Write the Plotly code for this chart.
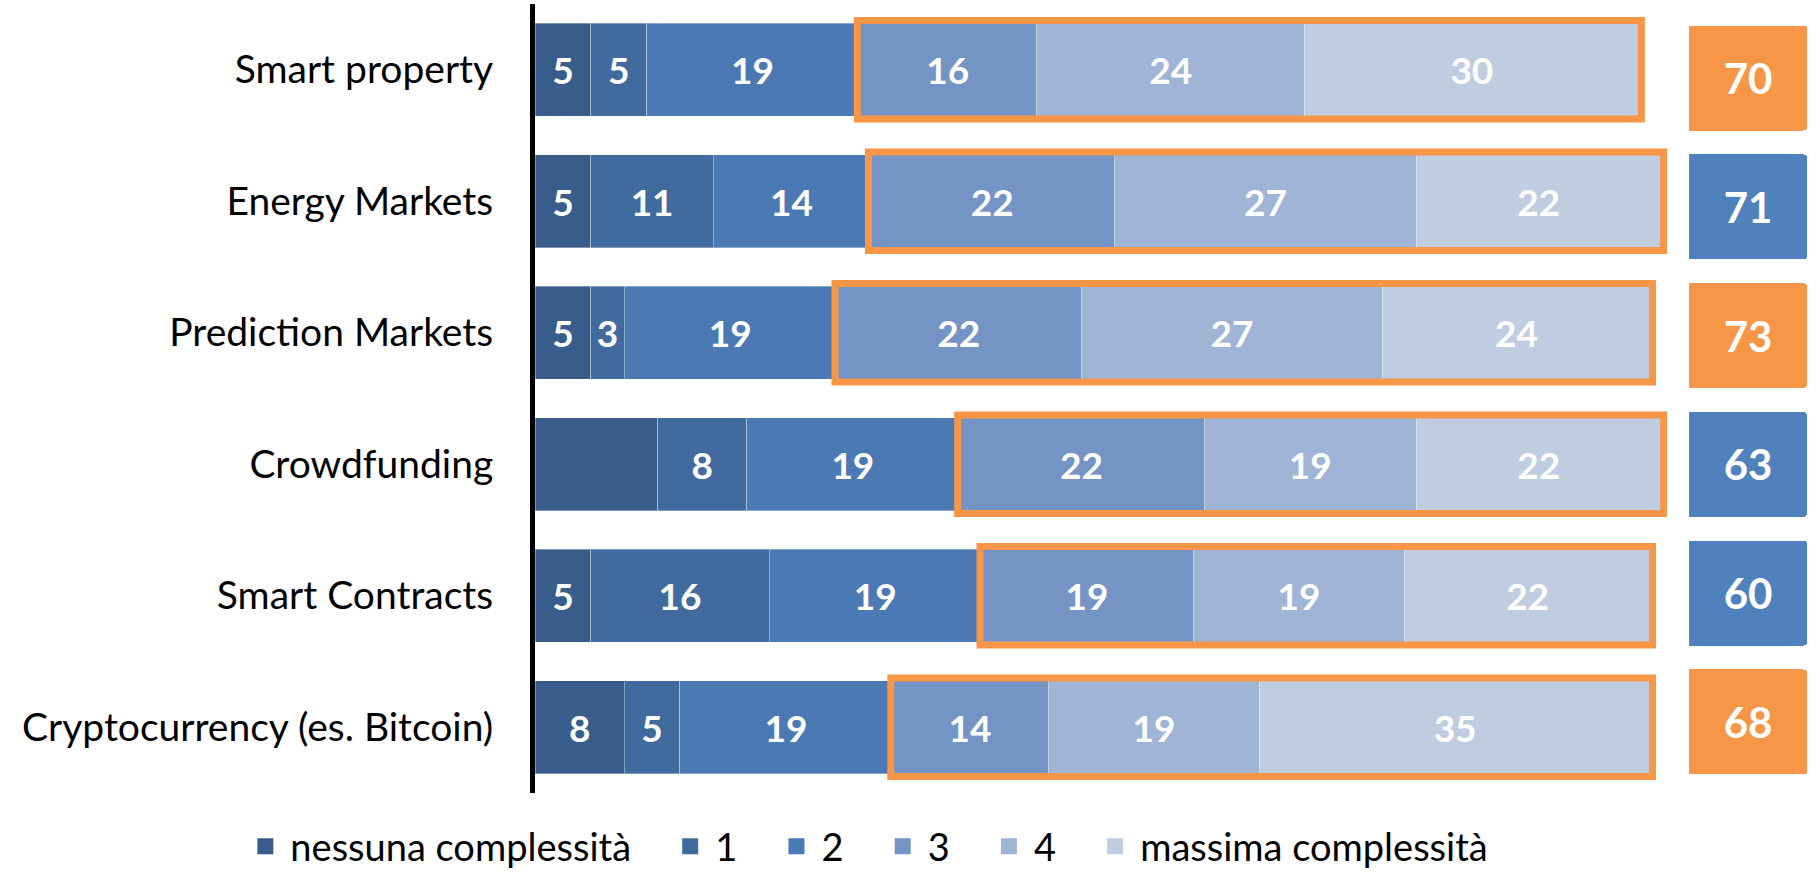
import plotly.graph_objects as go

categories = ["Smart property", "Energy Markets", "Prediction Markets",
              "Crowdfunding", "Smart Contracts", "Cryptocurrency (es. Bitcoin)"]
series_names = ["nessuna complessità", "1", "2", "3", "4", "massima complessità"]

nessuna = [5, 5, 5, 11, 5, 8]
livello1 = [5, 11, 3, 8, 16, 5]
livello2 = [19, 14, 19, 19, 19, 19]
livello3 = [16, 22, 22, 22, 19, 14]
livello4 = [24, 27, 27, 19, 19, 19]
massima = [30, 22, 24, 22, 22, 35]
label_hidden = [False, False, False, True, False, False]  # Crowdfunding first segment has no label
highlight = [True, False, True, False, False, True]        # orange total boxes

series = [nessuna, livello1, livello2, livello3, livello4, massima]
colors = ["#385D8A", "#416B9E", "#4B79B4", "#7394C5", "#A0B4D5", "#C0CDE1"]
ORANGE = "#F79646"
BLUE = "#4F81BD"
FONT = "Lato"
NBSP = "\u00a0"

fig = go.Figure()
for k, (name, vals, col) in enumerate(zip(series_names, series, colors)):
    texts = []
    for i, v in enumerate(vals):
        texts.append("" if (k == 0 and label_hidden[i]) else str(v))
    fig.add_trace(go.Bar(
        y=categories, x=vals, orientation="h", name=name,
        marker=dict(color=col, line=dict(color="rgba(255,255,255,0.35)", width=1)),
        text=texts, textposition="inside", insidetextanchor="middle",
        textangle=0, constraintext="none",
        textfont=dict(family=FONT, size=37, color="white", weight="bold"),
        showlegend=False, xaxis="x", yaxis="y",
    ))
    # legend entry with larger square marker
    fig.add_trace(go.Scatter(
        x=[None], y=[None], mode="markers", name=name + NBSP * 3,
        marker=dict(symbol="square", size=16, color=col),
        showlegend=True, xaxis="x", yaxis="y",
    ))

# totals of the three highest complexity levels
totals = [a + b + c for a, b, c in zip(livello3, livello4, massima)]
fig.add_trace(go.Bar(
    y=categories, x=[1] * len(categories), orientation="h", width=0.815,
    marker=dict(color=[ORANGE if h else BLUE for h in highlight], cornerradius=4, line=dict(width=0)),
    text=[str(t) for t in totals], textposition="inside", insidetextanchor="middle",
    textangle=0, constraintext="none",
    textfont=dict(family=FONT, size=42, color="white", weight="bold"),
    showlegend=False, xaxis="x2", yaxis="y2",
))

# orange frames around levels 3..massima
half = (1 - 0.29) / 2
pad = 0.02
for i in range(len(categories)):
    start = nessuna[i] + livello1[i] + livello2[i]
    end = start + livello3[i] + livello4[i] + massima[i]
    fig.add_shape(type="rect", xref="x", yref="y",
                  x0=start - 0.1, x1=end + 0.2,
                  y0=i - half - pad, y1=i + half + pad,
                  line=dict(color=ORANGE, width=7), fillcolor="rgba(0,0,0,0)", layer="above")

fig.update_layout(
    width=1816, height=873,
    margin=dict(l=535, r=0, t=4, b=80, autoexpand=False),
    barmode="stack", bargap=0.29,
    paper_bgcolor="white", plot_bgcolor="rgba(0,0,0,0)",
    font=dict(family=FONT, color="black"),
    xaxis=dict(domain=[0, 0.8837], range=[0, 101.5], visible=False, showgrid=False, zeroline=False),
    xaxis2=dict(domain=[0.9009, 0.993], range=[0, 1], visible=False, anchor="y2"),
    yaxis=dict(categoryorder="array", categoryarray=categories, autorange="reversed",
               showline=True, linewidth=5, linecolor="black", ticks="",
               ticklabelstandoff=29, tickfont=dict(family=FONT, size=39, color="black"),
               showgrid=False, zeroline=False),
    yaxis2=dict(domain=[0.0084, 0.9878], categoryorder="array", categoryarray=categories,
                autorange="reversed", visible=False, anchor="x2"),
    legend=dict(orientation="h", x=-0.230, xanchor="left", y=-0.068, yanchor="middle",
                traceorder="normal", itemwidth=40,
                font=dict(family=FONT, size=38, color="black"), itemsizing="trace",
                bgcolor="rgba(0,0,0,0)", tracegroupgap=0),
)

fig.write_html("out.html")
